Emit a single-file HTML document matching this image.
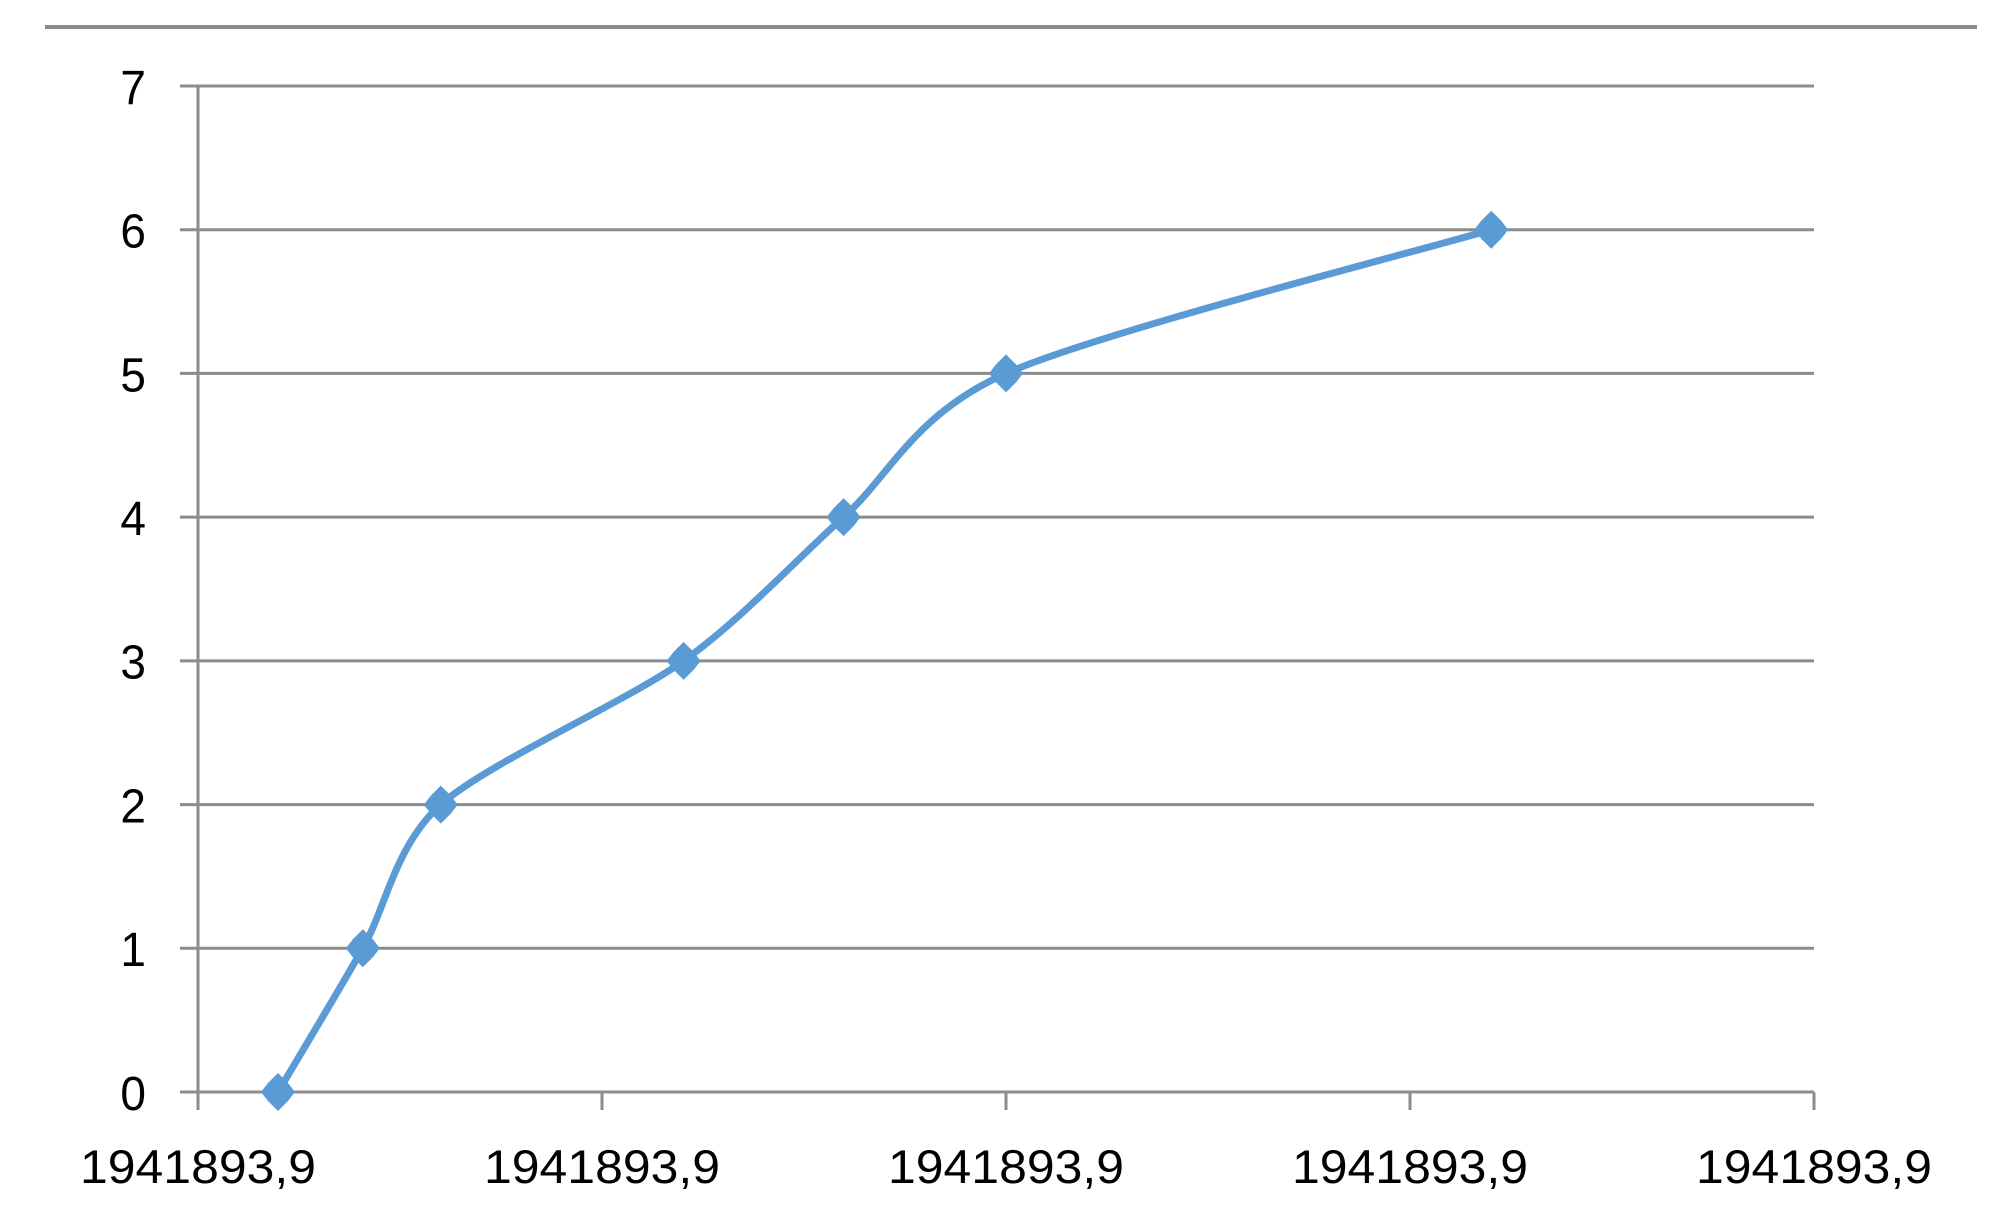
<!DOCTYPE html>
<html><head><meta charset="utf-8"><style>
html,body{margin:0;padding:0;background:#fff;}
svg{display:block;font-family:"Liberation Sans",sans-serif;}
</style></head><body>
<svg id="chart" width="2013" height="1211" viewBox="0 0 2013 1211">
<line x1="45" y1="27" x2="1977" y2="27" stroke="#8c8c8c" stroke-width="4"/>
<g id="grid"></g><g id="axes"></g><g id="series"></g>
</svg>
<script>
const xTicks = [0, 1, 2, 3, 4];
const xTickLabels = ["1941893,9","1941893,9","1941893,9","1941893,9","1941893,9"];
const yTicks = [0, 1, 2, 3, 4, 5, 6, 7];
const xValues = [0.198, 0.408, 0.601, 1.202, 1.598, 2.0, 3.201];
const yValues = [0, 1, 2, 3, 4, 5, 6];
const NS = "http://www.w3.org/2000/svg";
const X0 = 198, X1 = 1814, Y0 = 1092, Y1 = 86;
function sx(v){ return X0 + (v - 0) / (4 - 0) * (X1 - X0); }
function sy(v){ return Y0 - (v - 0) / (7 - 0) * (Y0 - Y1); }
function mk(tag, attrs, parent){ const e = document.createElementNS(NS, tag); for (const k in attrs) e.setAttribute(k, attrs[k]); parent.appendChild(e); return e; }
const grid = document.getElementById('grid'), axes = document.getElementById('axes'), series = document.getElementById('series');
yTicks.forEach(t => {
  const l = mk('line', {x1: 180, x2: X1, y1: sy(t), y2: sy(t), stroke: '#8c8c8c', 'stroke-width': 3}, grid);
  
  
  const tx = mk('text', {x: 146, y: sy(t) + 17, 'text-anchor': 'end', 'font-size': 46, fill: '#000', transform: `translate(0,${sy(t)}) scale(1,1.05) translate(0,${-sy(t)})`}, axes);
  tx.textContent = t;
  
  
});
const ya = mk('line', {x1: X0, x2: X0, y1: Y1, y2: 1110, stroke: '#8c8c8c', 'stroke-width': 3}, axes);


xTicks.forEach((t, i) => {
  const l = mk('line', {x1: sx(t), x2: sx(t), y1: Y0, y2: 1110, stroke: '#8c8c8c', 'stroke-width': 3}, axes);
  
  
  const tx = mk('text', {x: sx(t), y: 1183, 'text-anchor': 'middle', 'font-size': 47, fill: '#000', textLength: 236, lengthAdjust: 'spacingAndGlyphs'}, axes);
  tx.textContent = xTickLabels[i];
  
  
});
const pts = xValues.map((x, i) => [sx(x), sy(yValues[i])]);
let d = 'M' + pts[0][0] + ',' + pts[0][1];
for (let i = 0; i < pts.length - 1; i++) {
  const p0 = pts[Math.max(i - 1, 0)], p1 = pts[i], p2 = pts[i + 1], p3 = pts[Math.min(i + 2, pts.length - 1)];
  const t = 1 / 7;
  const c1 = [p1[0] + (p2[0] - p0[0]) * t, p1[1] + (p2[1] - p0[1]) * t];
  const c2 = [p2[0] - (p3[0] - p1[0]) * t, p2[1] - (p3[1] - p1[1]) * t];
  d += ' C' + c1 + ' ' + c2 + ' ' + p2;
}
const path = mk('path', {d: d, fill: 'none', stroke: '#5b9bd5', 'stroke-width': 7, 'stroke-linejoin': 'round'}, series);


pts.forEach(p => {
  const m = mk('path', {d: `M${p[0]},${p[1]-19} L${p[0]+10},${p[1]-9} L${p[0]+17},${p[1]} L${p[0]+10},${p[1]+9} L${p[0]},${p[1]+19} L${p[0]-10},${p[1]+9} L${p[0]-17},${p[1]} L${p[0]-10},${p[1]-9} Z`, fill: '#5b9bd5'}, series);
  
  
});
</script>
</body></html>
